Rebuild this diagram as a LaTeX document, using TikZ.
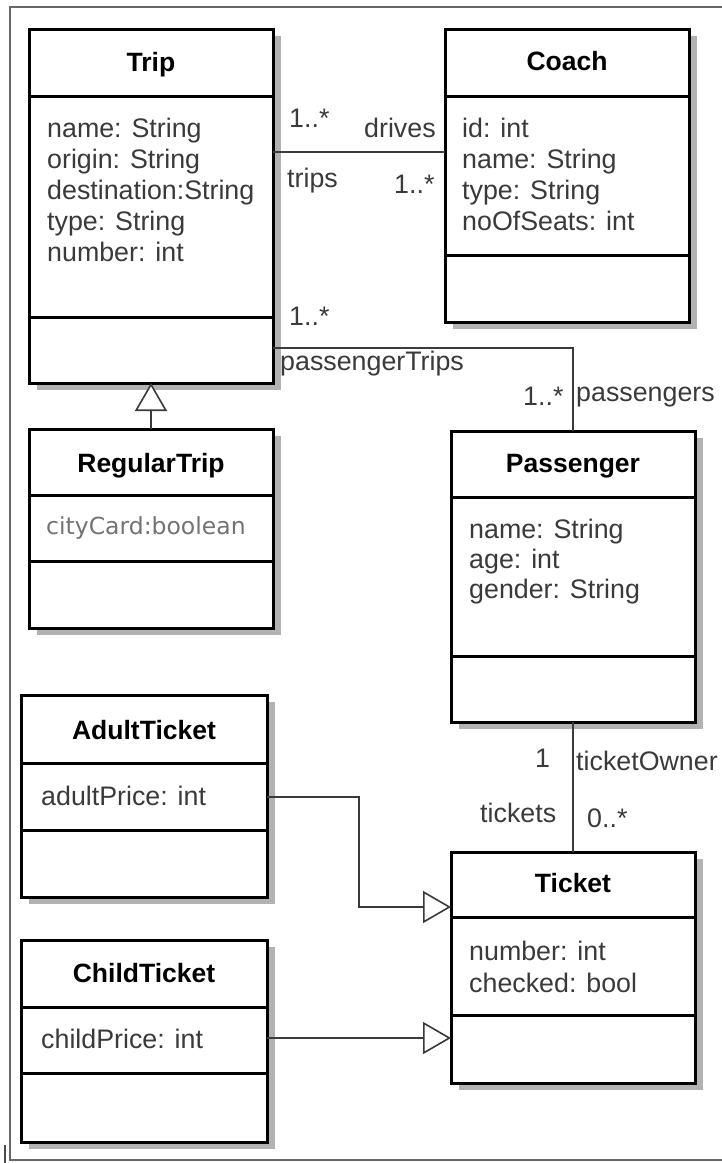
\documentclass[tikz,border=0pt]{standalone}
\usepackage{fontspec}
\setmainfont{Liberation Sans}
\newfontfamily\cardfont{DejaVu Sans}
\usetikzlibrary{arrows.meta,shadows}
\definecolor{txt}{HTML}{3A3A3A}
\definecolor{ln}{HTML}{3A3A3A}
\tikzset{
  cls/.style={draw=black, line width=3pt, fill=white, inner sep=0pt, outer sep=0pt,
    drop shadow={shadow xshift=8pt, shadow yshift=-7pt, fill=black!30, opacity=1}},
  sepline/.style={draw=black, line width=3pt},
  attr/.style={anchor=base west, inner sep=0pt, text=txt, font=\fontsize{26.8}{31}\selectfont},
  ttl/.style={anchor=base, inner sep=0pt, text=black, font=\fontsize{26.5}{31}\selectfont\bfseries},
  lbl/.style={anchor=base west, inner sep=0pt, text=txt, font=\fontsize{26.8}{31}\selectfont},
  conn/.style={draw=ln, line width=1.6pt},
  gen/.style={conn, -{Triangle[length=28pt, width=32pt, fill=white, line width=1.6pt]}},
}
\begin{document}
\begin{tikzpicture}[x=1pt,y=-1pt]
\useasboundingbox (0,0) rectangle (722,1163);
% outer frame
\draw[black!60, line width=2.5pt] (10,7) rectangle (760,1160);
\draw[black!70, line width=1.2pt] (5,1145) -- (5,1163);

% classes
\node[cls, minimum width=244pt, minimum height=354pt] (trip) at (151,206) {};
\node[cls, minimum width=244pt, minimum height=293pt] (coach) at (567,175.5) {};
\node[cls, minimum width=244pt, minimum height=199pt] (regtrip) at (151,528.5) {};
\node[cls, minimum width=244pt, minimum height=291pt] (pass) at (573,576.5) {};
\node[cls, minimum width=246pt, minimum height=202pt] (adult) at (144,796) {};
\node[cls, minimum width=246pt, minimum height=202pt] (child) at (144,1041) {};
\node[cls, minimum width=244pt, minimum height=231pt] (ticket) at (573,967.5) {};

% separators
\draw[sepline] (trip.west |- 0,96) -- (trip.east |- 0,96);
\draw[sepline] (trip.west |- 0,317) -- (trip.east |- 0,317);
\draw[sepline] (coach.west |- 0,96) -- (coach.east |- 0,96);
\draw[sepline] (coach.west |- 0,255) -- (coach.east |- 0,255);
\draw[sepline] (regtrip.west |- 0,495) -- (regtrip.east |- 0,495);
\draw[sepline] (regtrip.west |- 0,561) -- (regtrip.east |- 0,561);
\draw[sepline] (pass.west |- 0,497) -- (pass.east |- 0,497);
\draw[sepline] (pass.west |- 0,656) -- (pass.east |- 0,656);
\draw[sepline] (adult.west |- 0,763) -- (adult.east |- 0,763);
\draw[sepline] (adult.west |- 0,830) -- (adult.east |- 0,830);
\draw[sepline] (child.west |- 0,1007) -- (child.east |- 0,1007);
\draw[sepline] (child.west |- 0,1073) -- (child.east |- 0,1073);
\draw[sepline] (ticket.west |- 0,917) -- (ticket.east |- 0,917);
\draw[sepline] (ticket.west |- 0,1015) -- (ticket.east |- 0,1015);

% titles
\node[ttl] (tripT) at (151,71) {Trip};
\node[ttl] (coachT) at (567,70) {Coach};
\node[ttl] (regT) at (151,472) {RegularTrip};
\node[ttl] (passT) at (573,472) {Passenger};
\node[ttl] (adultT) at (144,739) {AdultTicket};
\node[ttl] (childT) at (144,982) {ChildTicket};
\node[ttl] (ticketT) at (573,892) {Ticket};

% attributes
\node[attr] (ta1) at (47,137) {name: String};
\node[attr] (ta2) at (47,168) {origin: String};
\node[attr] (ta3) at (47,199) {destination:String};
\node[attr] (ta4) at (47,230) {type: String};
\node[attr] (ta5) at (47,261) {number: int};
\node[attr] (ca1) at (462,137) {id: int};
\node[attr] (ca2) at (462,168) {name: String};
\node[attr] (ca3) at (462,199) {type: String};
\node[attr] (ca4) at (462,230) {noOfSeats: int};
\node[attr, text=black!55, font=\fontsize{23.5}{28}\cardfont] (ra1) at (46,534) {cityCard:boolean};
\node[attr] (pa1) at (469,538) {name: String};
\node[attr] (pa2) at (469,568) {age: int};
\node[attr] (pa3) at (469,598) {gender: String};
\node[attr] (aa1) at (41,805) {adultPrice: int};
\node[attr] (cha1) at (41,1048) {childPrice: int};
\node[attr] (tka1) at (469,960) {number: int};
\node[attr] (tka2) at (469,992) {checked: bool};

% connectors
\draw[conn] (trip.east |- 0,152) -- (coach.west |- 0,152);
\draw[conn] (trip.east |- 0,348) -| (pass.north);
\draw[conn] (pass.south) -- (ticket.north);
\draw[gen] (regtrip.north) -- (trip.south);
\coordinate (bend) at (359,907);
\draw[gen] (adult.east |- 0,797) -| (bend) -- (ticket.west |- bend);
\draw[gen] (child.east |- 0,1038) -- (ticket.west |- 0,1038);

% association labels
\node[lbl] (l1) at (289,127) {1..*};
\node[lbl] (l2) at (364,137) {drives};
\node[lbl] (l3) at (287,187) {trips};
\node[lbl] (l4) at (394,193) {1..*};
\node[lbl] (l5) at (289,325) {1..*};
\node[lbl] (l6) at (280,370) {passengerTrips};
\node[lbl] (l7) at (523,405) {1..*};
\node[lbl] (l8) at (576,401) {passengers};
\node[lbl] (l9) at (535,767) {1};
\node[lbl] (l10) at (576,770) {ticketOwner};
\node[lbl] (l11) at (480,822) {tickets};
\node[lbl] (l12) at (587,827) {0..*};
\end{tikzpicture}
\end{document}
